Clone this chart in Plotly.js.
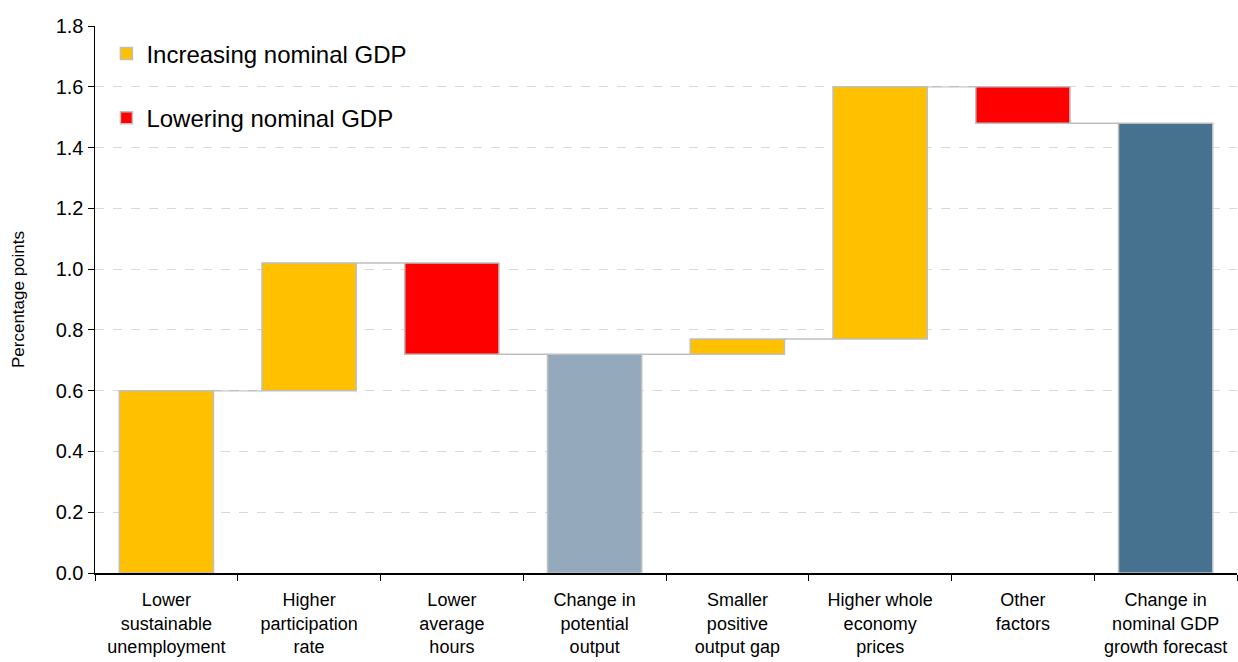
<!DOCTYPE html>
<html>
<head>
<meta charset="utf-8">
<script src="https://cdn.plot.ly/plotly-3.0.1.min.js"></script>
<style>html,body{margin:0;padding:0;background:#fff;}#chart{width:1238px;height:662px;}</style>
</head>
<body>
<div id="chart"></div>
<script>
const categories = [
  "Lower<br>sustainable<br>unemployment",
  "Higher<br>participation<br>rate",
  "Lower<br>average<br>hours",
  "Change in<br>potential<br>output",
  "Smaller<br>positive<br>output gap",
  "Higher whole<br>economy<br>prices",
  "Other<br>factors",
  "Change in<br>nominal GDP<br>growth forecast"
];
const measures = ["relative","relative","relative","total","relative","relative","relative","total"];
const changes = [0.60, 0.42, -0.30, 0, 0.05, 0.83, -0.12, 0];
const yTickValues = [0, 0.2, 0.4, 0.6, 0.8, 1.0, 1.2, 1.4, 1.6, 1.8];
const yTickLabels = ["0.0","0.2","0.4","0.6","0.8","1.0","1.2","1.4","1.6","1.8"];

const colorUp = "#FFC000", colorDown = "#FF0000";
const totalColors = ["#94AABC", "#46718F"];
const outline = "#BFBFBF";

let running = 0;
const levels = [];
let totalIdx = 0;
const up = {x:[], y:[], base:[]}, down = {x:[], y:[], base:[]}, tot = {x:[], y:[], base:[], c:[]};
measures.forEach((m, i) => {
  if (m === "total") {
    tot.x.push(categories[i]); tot.y.push(running); tot.base.push(0); tot.c.push(totalColors[totalIdx++]);
  } else {
    const v = changes[i];
    if (v >= 0) { up.x.push(categories[i]); up.y.push(v); up.base.push(running); }
    else { down.x.push(categories[i]); down.y.push(-v); down.base.push(running + v); }
    running += v;
  }
  levels.push(running);
});

const bw = 0.66;
const traces = [
  {type:"bar", x:up.x, y:up.y, base:up.base, width:bw, name:"Increasing nominal GDP", legendgroup:"a",
   marker:{color:colorUp, line:{color:outline, width:1.5}}, hoverinfo:"skip"},
  {type:"bar", x:down.x, y:down.y, base:down.base, width:bw, name:"Lowering nominal GDP", legendgroup:"b",
   marker:{color:colorDown, line:{color:outline, width:1.5}}, hoverinfo:"skip"},
  {type:"bar", x:tot.x, y:tot.y, base:tot.base, width:bw, showlegend:false,
   marker:{color:tot.c, line:{color:outline, width:1.5}}, hoverinfo:"skip"}
];

const shapes = [];
for (let i = 0; i < categories.length - 1; i++) {
  shapes.push({type:"line", xref:"x", yref:"y", x0:i + bw/2, x1:i + 1 - bw/2, y0:levels[i], y1:levels[i],
    line:{color:outline, width:1.5}, layer:"below"});
}

const font = "Liberation Sans, Arial, sans-serif";
const layout = {
  width:1238, height:662,
  margin:{l:95, r:1, t:26, b:89},
  paper_bgcolor:"#fff", plot_bgcolor:"#fff",
  barmode:"overlay",
  font:{family:font, color:"#000", size:18},
  showlegend:true,
  legend:{x:0.01, y:0.99, xanchor:"left", yanchor:"top", bgcolor:"rgba(0,0,0,0)",
    font:{size:24, family:font}, tracegroupgap:30, traceorder:"grouped", itemwidth:30},
  xaxis:{type:"category", categoryorder:"array", categoryarray:categories,
    showline:true, linecolor:"#000", linewidth:1.5, ticks:"outside", ticklen:6,
    tickcolor:"#000", tickson:"boundaries", showgrid:false, tickfont:{size:18}, ticklabelstandoff:10,
    range:[-0.5, 7.5], fixedrange:true},
  yaxis:{range:[0, 1.8], tickvals:yTickValues, ticktext:yTickLabels, showline:true, linecolor:"#000", linewidth:1.5,
    ticks:"outside", ticklen:6, tickcolor:"#000", gridcolor:"#D9D9D9", griddash:"dash", gridwidth:1,
    zeroline:false, tickfont:{size:20},
    title:{text:"Percentage points", font:{size:17}, standoff:26}},
  shapes:shapes
};
Plotly.newPlot("chart", traces, layout, {displayModeBar:false, staticPlot:true});
</script>
</body>
</html>
